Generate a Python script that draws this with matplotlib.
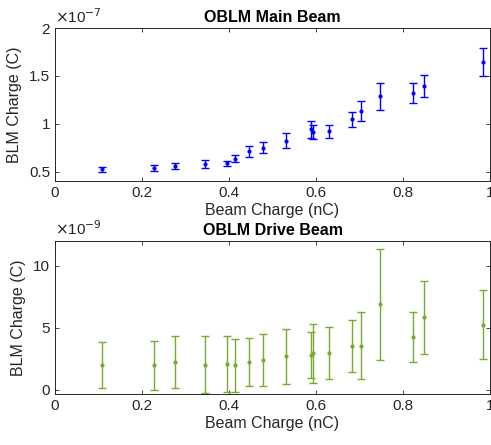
import numpy as np
import matplotlib
matplotlib.use('Agg')
from matplotlib import pyplot as plt
from matplotlib.ticker import FuncFormatter

plt.rcParams['font.family'] = ['Liberation Sans', 'DejaVu Sans']

# beam charge (nC), shared by both plots
beamCharge = [0.109, 0.228, 0.277, 0.344, 0.396, 0.413, 0.446, 0.478, 0.531,
              0.588, 0.594, 0.631, 0.683, 0.704, 0.746, 0.824, 0.848, 0.984]

# main beam BLM charge, units of 1e-7 C
mainVals = [0.524, 0.538, 0.559, 0.580, 0.587, 0.635, 0.712, 0.750, 0.823,
            0.940, 0.910, 0.920, 1.045, 1.135, 1.288, 1.323, 1.392, 1.646]
mainErr = [0.028, 0.030, 0.030, 0.040, 0.028, 0.040, 0.060, 0.055, 0.076,
           0.087, 0.075, 0.065, 0.080, 0.105, 0.140, 0.104, 0.115, 0.146]

# drive beam BLM charge, units of 1e-9 C
driveVals = [1.98, 1.98, 2.20, 2.00, 2.06, 1.96, 2.22, 2.39, 2.68,
             2.80, 2.92, 2.92, 3.51, 3.54, 6.89, 4.24, 5.82, 5.23]
driveErr = [1.82, 1.98, 2.10, 2.30, 2.27, 2.15, 1.93, 2.06, 2.20,
            1.87, 2.35, 2.10, 2.09, 2.68, 4.47, 2.00, 2.92, 2.78]

textCol = (0.15, 0.15, 0.15)

fig = plt.figure(figsize=(4.91, 4.45), dpi=100)
axTop = fig.add_axes([0.112, 0.593, 0.886, 0.344])
axBot = fig.add_axes([0.112, 0.1146, 0.886, 0.3445])


def styleAxes(ax, scale, expo, title):
    ax.set_xlim(0, 1)
    ax.set_xticks([0, 0.2, 0.4, 0.6, 0.8, 1])
    ax.xaxis.set_major_formatter(FuncFormatter(lambda v, p: '%g' % v))
    ax.yaxis.set_major_formatter(FuncFormatter(lambda v, p: '%g' % round(v / scale, 6)))
    ax.tick_params(direction='in', top=True, right=True, labelsize=11,
                   colors=textCol, length=3, width=0.6)
    for s in ax.spines.values():
        s.set_color(textCol)
        s.set_linewidth(0.7)
    ax.set_xlabel('Beam Charge (nC)', fontsize=11.5, color=textCol, labelpad=2)
    ax.set_ylabel('BLM Charge (C)', fontsize=11.5, color=textCol, labelpad=5)
    ax.set_title(title, fontsize=11.5, fontweight='bold', pad=4)
    ax.text(0.0, 1.015, r'$\times$10$^{%d}$' % expo, transform=ax.transAxes,
            fontsize=11, color=textCol, ha='left', va='bottom')


mainScale = 1e-7
axTop.errorbar(beamCharge, np.array(mainVals) * mainScale, yerr=np.array(mainErr) * mainScale,
               fmt='.', color='blue', markersize=4, capsize=3, elinewidth=1, capthick=1)
axTop.set_ylim(0.4 * mainScale, 2 * mainScale)
axTop.set_yticks(np.array([0.5, 1, 1.5, 2]) * mainScale)
styleAxes(axTop, mainScale, -7, 'OBLM Main Beam')

driveScale = 1e-9
green = (0.466, 0.674, 0.188)
axBot.errorbar(beamCharge, np.array(driveVals) * driveScale, yerr=np.array(driveErr) * driveScale,
               fmt='.', color=green, markersize=4, capsize=3, elinewidth=1, capthick=1)
axBot.set_ylim(-0.35 * driveScale, 12 * driveScale)
axBot.set_yticks(np.array([0, 5, 10]) * driveScale)
styleAxes(axBot, driveScale, -9, 'OBLM Drive Beam')

fig.savefig('out.png', dpi=100)
